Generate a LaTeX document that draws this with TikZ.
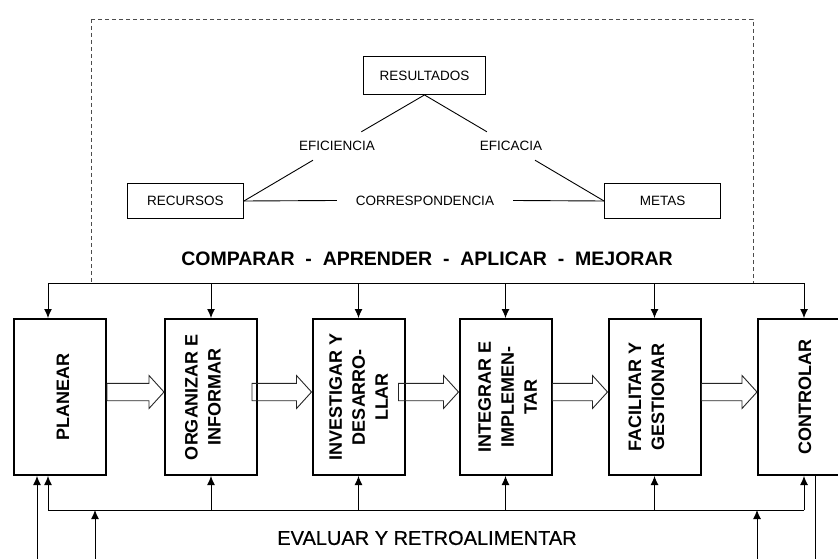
\documentclass[tikz,border=0pt]{standalone}
\usepackage{fontspec}
\setmainfont{Liberation Sans}
\newfontfamily\heavysans[FakeBold=0.6]{Liberation Sans}
\usetikzlibrary{arrows.meta,calc}

\begin{document}
\begin{tikzpicture}[x=1pt,y=-1pt,
	frame/.style={draw=black!70,line width=0.8pt,dash pattern=on 4pt off 3pt},
	box/.style={draw,line width=0.9pt,minimum width=116pt,minimum height=35pt,inner sep=0pt,font=\fontsize{13.5}{16}\selectfont},
	lbl/.style={inner xsep=19pt,inner ysep=9pt,text height=10pt,text depth=0pt,font=\fontsize{13.5}{16}\selectfont},
	proc/.style={draw,line width=2pt,minimum width=92pt,minimum height=156pt,inner sep=0pt},
	proctext/.style={rotate=90,align=center,inner sep=0pt,font=\bfseries\fontsize{18}{23}\selectfont},
	link/.style={line width=0.9pt},
	flow/.style={line width=0.9pt,-{Latex[length=9pt,width=8pt]}},
	hollow/.style={draw=black!85,line width=0.9pt,line join=miter}]

\useasboundingbox (0,0) rectangle (838,559);
\clip (0,0) rectangle (838,559);

\def\sh{8.7}  % half shaft
\def\hh{16.5} % half head
\def\hl{15}   % head length
\def\dy{-5}

% upper part
\draw[frame] (91,19) rectangle (753,283);

\node[box,minimum width=122pt,minimum height=38pt] (res) at (424.5,75.5) {RESULTADOS};
\node[box] (rec) at (185.5,201) {RECURSOS};
\node[box] (met) at (662.5,201) {METAS};

\node[lbl] (efi) at (337,146) {EFICIENCIA};
\node[lbl] (efa) at (511,146) {EFICACIA};
\node[lbl] (cor) at (425,200) {CORRESPONDENCIA};

\draw[link] (res.south) -- (efi) -- (rec.east);
\draw[link] (res.south) -- (efa) -- (met.west);
\draw[link] (rec.east) -- (cor) -- (met.west);

\node[font=\bfseries\fontsize{19.5}{22}\selectfont] (cmp) at (427,259)
	{COMPARAR\ \ -\ \ APRENDER\ \ -\ \ APLICAR\ \ -\ \ MEJORAR};

% process boxes
\node[proc] (planear) at (60,397) {};
\node[proc] (organizar) at (211,397) {};
\node[proc] (investigar) at (358.5,397) {};
\node[proc] (integrar) at (505.5,397) {};
\node[proc] (facilitar) at (654.5,397) {};
\node[proc] (controlar) at (804,397) {};

\node[proctext] (tplanear) at ($(planear)+(3,0)$) {PLANEAR};
\node[proctext] (torganizar) at ($(organizar)+(-8,0)$) {ORGANIZAR E\\INFORMAR};
\node[proctext] (tinvestigar) at (investigar) {INVESTIGAR Y\\DESARRO-\\LLAR};
\node[proctext] (tintegrar) at ($(integrar)+(2,0)$) {INTEGRAR E\\IMPLEMEN-\\TAR};
\node[proctext] (tfacilitar) at ($(facilitar)+(-8,0)$) {FACILITAR Y\\GESTIONAR};
\node[proctext] (tcontrolar) at ($(controlar)+(1,0)$) {CONTROLAR};

\foreach \a/\b/\s in {planear/organizar/0,organizar/investigar/6,investigar/integrar/7,integrar/facilitar/0,facilitar/controlar/0} {
	\draw[hollow] ($(\a.east)+(-\s,{\dy-\sh})$) -- ($(\b.west)+(-\hl,{\dy-\sh})$)
		-- ($(\b.west)+(-\hl,{\dy-\hh})$) -- ($(\b.west)+(0,\dy)$)
		-- ($(\b.west)+(-\hl,{\dy+\hh})$) -- ($(\b.west)+(-\hl,{\dy+\sh})$)
		-- ($(\a.east)+(-\s,{\dy+\sh})$) -- cycle;
}

% compare line and feedback line
\coordinate (top) at (0,283);
\coordinate (bot) at (0,510);
\coordinate (pl) at ($(planear.north)+(-12,0)$);

\draw[link] (pl |- top) -- (controlar.north |- top);
\draw[flow] (pl |- top) -- (pl |- planear.north);
\foreach \n in {organizar,investigar,integrar,facilitar,controlar}
	\draw[flow] (\n.north |- top) -- (\n.north);

\draw[link] (pl |- bot) -- (controlar.south |- bot);
\draw[flow] (pl |- bot) -- (pl |- planear.south);
\foreach \n in {organizar,investigar,integrar,facilitar,controlar}
	\draw[flow] (\n.south |- bot) -- (\n.south);

\node[font=\heavysans\fontsize{20}{24}\selectfont] (eva) at (427,538) {EVALUAR Y RETROALIMENTAR};

% inputs from below
\coordinate (ina) at (37,570);
\coordinate (inb) at (95,570);
\coordinate (inc) at (757,570);
\coordinate (out) at (815,570);
\draw[flow] (ina) -- (ina |- planear.south);
\draw[flow] (inb) -- (inb |- bot);
\draw[flow] (inc) -- (inc |- bot);
\draw[link] (out |- controlar.south) -- (out);

\end{tikzpicture}
\end{document}
